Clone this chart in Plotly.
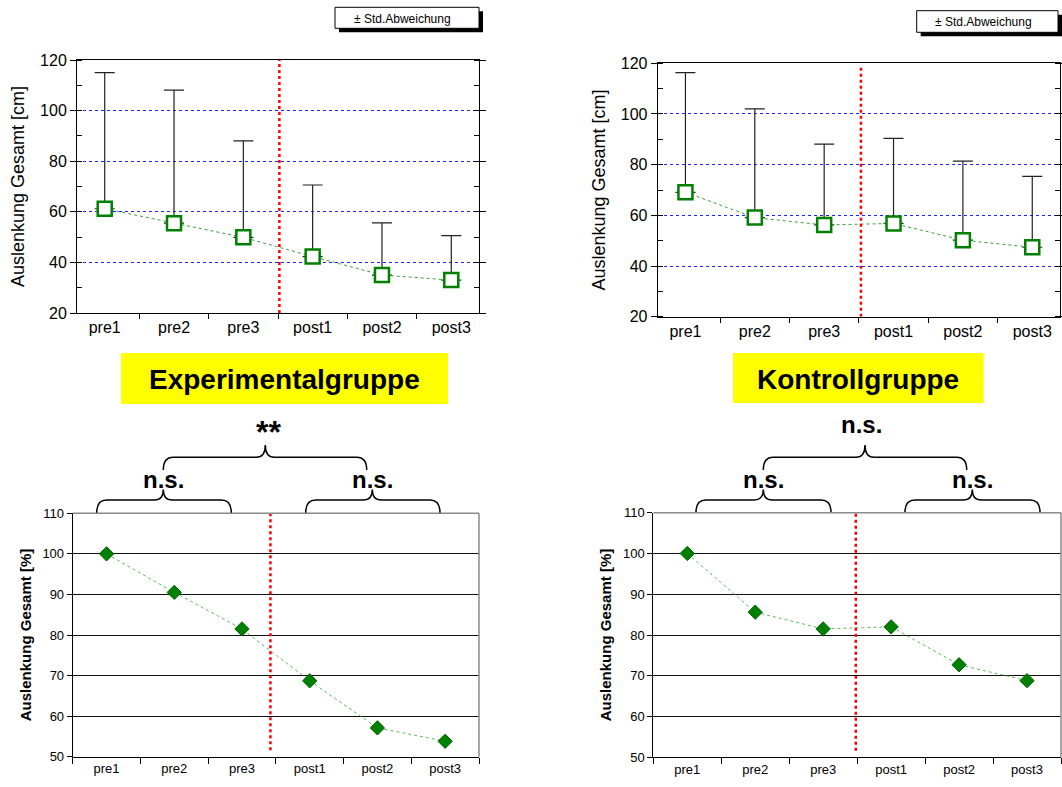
import plotly.graph_objects as go

# ---------------- data ----------------
cats = ["pre1", "pre2", "pre3", "post1", "post2", "post3"]
exp_mean = [61.2, 55.5, 49.9, 42.3, 35.0, 33.0]
exp_sd = [53.8, 52.6, 38.1, 28.3, 20.6, 17.6]
kon_mean = [69.1, 59.1, 56.2, 56.8, 50.2, 47.4]
kon_sd = [47.2, 42.9, 31.9, 33.6, 31.2, 28.0]
exp_pct = [100.0, 90.5, 81.5, 68.7, 57.1, 53.8]
kon_pct = [100.0, 85.6, 81.5, 82.0, 72.7, 68.8]
top_ticks = [20, 40, 60, 80, 100, 120]
bottom_ticks = [50, 60, 70, 80, 90, 100, 110]

W, H = 1062, 787
FONT = "Arial, Liberation Sans, sans-serif"


def px(x):
    return x / W


def py(y):
    return 1 - y / H


fig = go.Figure()

# ---------------- top charts (absolute values with SD) ----------------
for mean, sd, xa, ya in [(exp_mean, exp_sd, "x", "y"), (kon_mean, kon_sd, "x2", "y2")]:
    fig.add_trace(go.Scatter(
        x=cats, y=mean, mode="lines+markers", xaxis=xa, yaxis=ya, showlegend=False,
        line=dict(color="#3c9c3c", width=1, dash="dot"),
        marker=dict(symbol="square", size=14, color="white",
                    line=dict(color="#008000", width=2.5)),
        error_y=dict(type="data", symmetric=False, array=sd, arrayminus=[0] * len(sd),
                     color="#222222", thickness=1.2, width=10),
        cliponaxis=False,
    ))

# ---------------- bottom charts (percent) ----------------
for pct, xa, ya in [(exp_pct, "x3", "y3"), (kon_pct, "x4", "y4")]:
    fig.add_trace(go.Scatter(
        x=cats, y=pct, mode="lines+markers", xaxis=xa, yaxis=ya, showlegend=False,
        line=dict(color="#5cb85c", width=1, dash="dot"),
        marker=dict(symbol="diamond", size=11, color="#008000",
                    line=dict(color="#006400", width=1)),
        cliponaxis=False,
    ))

top_x = dict(type="category", range=[-0.4, 5.4], tickson="boundaries", ticks="outside",
             ticklen=5, tickcolor="black", showline=True, linecolor="black", linewidth=1,
             mirror=True, showgrid=False, automargin=False,
             tickfont=dict(family=FONT, size=16, color="black"))
top_y = dict(range=[20, 120], tickvals=top_ticks, ticks="outside", ticklen=6, tickcolor="black",
             minor=dict(dtick=10, ticks="inside", ticklen=5, tickcolor="black", showgrid=False),
             showgrid=True, gridcolor="#2020ff", griddash="dot", gridwidth=1,
             showline=True, linecolor="black", linewidth=1, mirror="allticks", zeroline=False,
             automargin=False,
             tickfont=dict(family=FONT, size=16, color="black"),
             title=dict(text="Auslenkung Gesamt [cm]", font=dict(family=FONT, size=18, color="black"),
                        standoff=10))
bot_x = dict(type="category", range=[-0.5, 5.5], tickson="boundaries", ticks="outside",
             ticklen=6, tickcolor="black", showline=True, linecolor="black", linewidth=1,
             showgrid=False, automargin=False,
             tickfont=dict(family=FONT, size=13, color="black"))
bot_y = dict(range=[50, 110], tickvals=bottom_ticks, ticks="outside", ticklen=5, tickcolor="black",
             showgrid=True, gridcolor="#111111", gridwidth=1, showline=True, linecolor="black",
             linewidth=1, zeroline=False, automargin=False,
             tickfont=dict(family=FONT, size=13, color="black"),
             title=dict(text="<b>Auslenkung Gesamt [%]</b>",
                        font=dict(family=FONT, size=15, color="black"), standoff=7))

fig.update_layout(
    width=W, height=H, margin=dict(l=0, r=0, t=0, b=0, pad=0, autoexpand=False),
    paper_bgcolor="white", plot_bgcolor="white",
    font=dict(family=FONT, color="black"),
    xaxis=dict(top_x, domain=[px(77), px(479)], anchor="y"),
    yaxis=dict(top_y, domain=[py(313), py(60)], anchor="x"),
    xaxis2=dict(top_x, domain=[px(657.7), px(1060)], anchor="y2"),
    yaxis2=dict(top_y, domain=[py(316.7), py(63.3)], anchor="x2"),
    xaxis3=dict(bot_x, domain=[px(72.7), px(479)], anchor="y3"),
    yaxis3=dict(bot_y, domain=[py(756.7), py(513.3)], anchor="x3"),
    xaxis4=dict(bot_x, domain=[px(653.3), px(1061)], anchor="y4"),
    yaxis4=dict(bot_y, domain=[py(757.3), py(512.7)], anchor="x4"),
)

shapes = []
annotations = []

# red separators
for xa, ya, xv, y0, y1 in [("x", "y", 2.52, 20, 121), ("x2", "y2", 2.53, 20, 119),
                           ("x3", "y3", 2.42, 51.6, 110), ("x4", "y4", 2.48, 51.6, 110)]:
    shapes.append(dict(type="line", xref=xa, yref=ya, x0=xv, x1=xv, y0=y0, y1=y1,
                       line=dict(color="red", width=2.5, dash="dot"), layer="above"))

# gray top/right frame on bottom charts
for xa, ya in [("x3", "y3"), ("x4", "y4")]:
    shapes.append(dict(type="line", xref=xa + " domain", yref=ya + " domain", x0=0, x1=1, y0=1, y1=1,
                       line=dict(color="#8a8a8a", width=1.5), layer="above"))
    shapes.append(dict(type="line", xref=xa + " domain", yref=ya + " domain", x0=1, x1=1, y0=0, y1=1,
                       line=dict(color="#8a8a8a", width=1.5), layer="above"))

# legend boxes "± Std.Abweichung"
for (x0, x1, y0, y1, tx, ty) in [(335, 479, 7.3, 28.3, 402, 18.5), (916.7, 1058, 10.7, 32.3, 983, 22)]:
    shapes.append(dict(type="rect", xref="paper", yref="paper", x0=px(x0 + 4), x1=px(x1 + 4),
                       y0=py(y1 + 4), y1=py(y0 + 4), fillcolor="black", line=dict(width=0)))
    shapes.append(dict(type="rect", xref="paper", yref="paper", x0=px(x0), x1=px(x1),
                       y0=py(y1), y1=py(y0), fillcolor="white", line=dict(color="black", width=1)))
    annotations.append(dict(xref="paper", yref="paper", x=px(tx), y=py(ty), text="± Std.Abweichung",
                            showarrow=False, font=dict(family=FONT, size=12, color="black"),
                            xanchor="center", yanchor="middle"))

# group titles
for (x0, x1, y0, y1, txt) in [(121, 448, 353, 404, "Experimentalgruppe"),
                              (733, 983.7, 353, 403, "Kontrollgruppe")]:
    shapes.append(dict(type="rect", xref="paper", yref="paper", x0=px(x0), x1=px(x1),
                       y0=py(y1), y1=py(y0), fillcolor="#ffff00", line=dict(width=0)))
    annotations.append(dict(xref="paper", yref="paper", x=px((x0 + x1) / 2), y=py((y0 + y1) / 2 + 1),
                            text="<b>" + txt + "</b>", showarrow=False,
                            font=dict(family=FONT, size=28, color="black"),
                            xanchor="center", yanchor="middle"))


def brace(x0, x1, xm, yb, yf, yp, r=10, r2=9):
    pts = [
        f"M {px(x0)},{py(yb)}",
        f"Q {px(x0)},{py(yf)} {px(x0 + r)},{py(yf)}",
        f"L {px(xm - r2)},{py(yf)}",
        f"Q {px(xm)},{py(yf)} {px(xm)},{py(yp)}",
        f"Q {px(xm)},{py(yf)} {px(xm + r2)},{py(yf)}",
        f"L {px(x1 - r)},{py(yf)}",
        f"Q {px(x1)},{py(yf)} {px(x1)},{py(yb)}",
    ]
    return dict(type="path", xref="paper", yref="paper", path=" ".join(pts),
                line=dict(color="black", width=1.5))


# braces: left chart
shapes.append(brace(96.7, 231.3, 163.3, 512.7, 500, 489.5))
shapes.append(brace(305.7, 440, 372.3, 512.7, 500, 489.5))
shapes.append(brace(163.3, 366.7, 265.3, 470, 457.3, 445))
# braces: right chart
shapes.append(brace(696, 831, 763.3, 512, 500, 489.5))
shapes.append(brace(905, 1040, 972.3, 512, 500, 489.5))
shapes.append(brace(763.3, 966.7, 865, 470, 457.3, 445))

for (x, y, txt, size) in [(163.3, 479, "n.s.", 24), (372.3, 479, "n.s.", 24), (268, 432, "**", 32),
                          (763.3, 479, "n.s.", 24), (972.3, 479, "n.s.", 24), (861.7, 424.5, "n.s.", 24)]:
    annotations.append(dict(xref="paper", yref="paper", x=px(x), y=py(y), text="<b>" + txt + "</b>",
                            showarrow=False, font=dict(family=FONT, size=size, color="black"),
                            xanchor="center", yanchor="middle"))

fig.update_layout(shapes=shapes, annotations=annotations)

fig.write_html("out.html", config={"displayModeBar": False},
               post_script="document.body.style.margin='0';document.body.style.overflow='hidden';")
